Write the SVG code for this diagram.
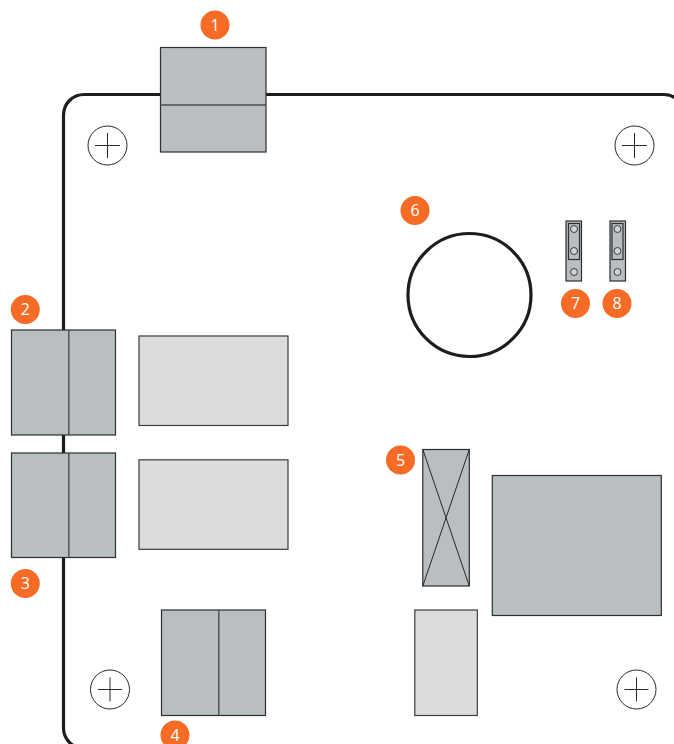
<svg xmlns="http://www.w3.org/2000/svg" width="674" height="744" viewBox="0 0 674 744">
<style>
.part{fill:#b9bec0;stroke:#2c2e31;stroke-width:1.2}
.light{fill:#dcdcda;stroke:#3a3c3e;stroke-width:1.2}
.div{stroke:#4a4d50;stroke-width:1.4;fill:none}
.thin{stroke:#26282b;stroke-width:1;fill:none}
.hole{fill:#fff;stroke:#26282b;stroke-width:1}
.pin{fill:#d0d3d4;stroke:#3a3c3e;stroke-width:1}
.badge{fill:#f66b25}
.num{font-family:"Open Sans","Noto Sans",sans-serif;font-size:16px;fill:#fff;text-anchor:middle}
</style>
<g id="board"><path d="M84 748.500A20.500 20.500 0 0 1 63.500 728V115A20.500 20.500 0 0 1 84 94.500H664A20.500 20.500 0 0 1 684.500 115" fill="none" stroke="#1c1d20" stroke-width="3.200"/></g>
<g id="holes">
<g id="hole-tl"><circle class="hole" cx="107.500" cy="145.500" r="19.500"/><path class="thin" d="M95 145.500H120M107.500 133V158"/></g>
<g id="hole-tr"><circle class="hole" cx="634.500" cy="145.500" r="19.500"/><path class="thin" d="M622 145.500H647M634.500 133V158"/></g>
<g id="hole-bl"><circle class="hole" cx="110" cy="689.500" r="19.500"/><path class="thin" d="M98 689.500H122M110 677.500V701.500"/></g>
<g id="hole-br"><circle class="hole" cx="636.500" cy="689.500" r="19.500"/><path class="thin" d="M624.500 689.500H648.500M636.500 677.500V701.500"/></g>
</g>
<g id="part-1"><rect class="part" x="160.500" y="47.500" width="105.500" height="104.500"/><path class="div" d="M160.500 105H266"/></g>
<g id="part-2"><rect class="part" x="11.500" y="330" width="104" height="105"/><path class="div" d="M68.800 330V435"/></g>
<g id="part-3"><rect class="part" x="11.500" y="453" width="104" height="104.500"/><path class="div" d="M68.800 453V557.500"/></g>
<g id="part-4"><rect class="part" x="161.500" y="610" width="104" height="105.500"/><path class="div" d="M218.800 610V715.500"/></g>
<g id="part-5"><rect class="part" x="422.800" y="449.500" width="46.500" height="136.500"/><path class="thin" d="M422.800 449.500L469.300 586M469.300 449.500L422.800 586"/></g>
<g id="block-a"><rect class="light" x="139" y="336" width="149" height="89.500"/></g>
<g id="block-b"><rect class="light" x="139" y="459.800" width="149" height="89.500"/></g>
<g id="block-c"><rect class="part" x="492.300" y="475.500" width="169" height="140"/></g>
<g id="block-d"><rect class="light" x="414.800" y="610" width="62.500" height="105.500"/></g>
<g id="part-6"><circle cx="469.500" cy="295" r="61.500" fill="#fff" stroke="#1c1d20" stroke-width="3.200"/></g>
<g id="part-7"><rect class="part" x="566" y="221" width="15.500" height="60"/><rect class="part" x="568.500" y="223.500" width="11" height="36"/><circle class="pin" cx="574" cy="229" r="3.500"/><circle class="pin" cx="574" cy="251" r="3.500"/><circle class="pin" cx="574" cy="272" r="3.500"/></g>
<g id="part-8"><rect class="part" x="610" y="221" width="15.500" height="60"/><rect class="part" x="612" y="223.500" width="11" height="36"/><circle class="pin" cx="617.500" cy="229" r="3.500"/><circle class="pin" cx="617.500" cy="251" r="3.500"/><circle class="pin" cx="617.500" cy="272" r="3.500"/></g>
<g id="badge-1"><circle class="badge" cx="215" cy="25" r="14.500"/><text class="num" x="215" y="30.500">1</text></g>
<g id="badge-2"><circle class="badge" cx="25.300" cy="309.500" r="14.500"/><text class="num" x="25.300" y="315">2</text></g>
<g id="badge-3"><circle class="badge" cx="25.300" cy="583.500" r="14.500"/><text class="num" x="25.300" y="589">3</text></g>
<g id="badge-4"><circle class="badge" cx="175" cy="735" r="14.500"/><text class="num" x="175" y="740.500">4</text></g>
<g id="badge-5"><circle class="badge" cx="400.500" cy="460" r="14.500"/><text class="num" x="400.500" y="465.500">5</text></g>
<g id="badge-6"><circle class="badge" cx="415" cy="210.500" r="14.500"/><text class="num" x="415" y="216">6</text></g>
<g id="badge-7"><circle class="badge" cx="575.500" cy="303.500" r="14.500"/><text class="num" x="575.500" y="309">7</text></g>
<g id="badge-8"><circle class="badge" cx="617" cy="303.500" r="14.500"/><text class="num" x="617" y="309">8</text></g>
</svg>
